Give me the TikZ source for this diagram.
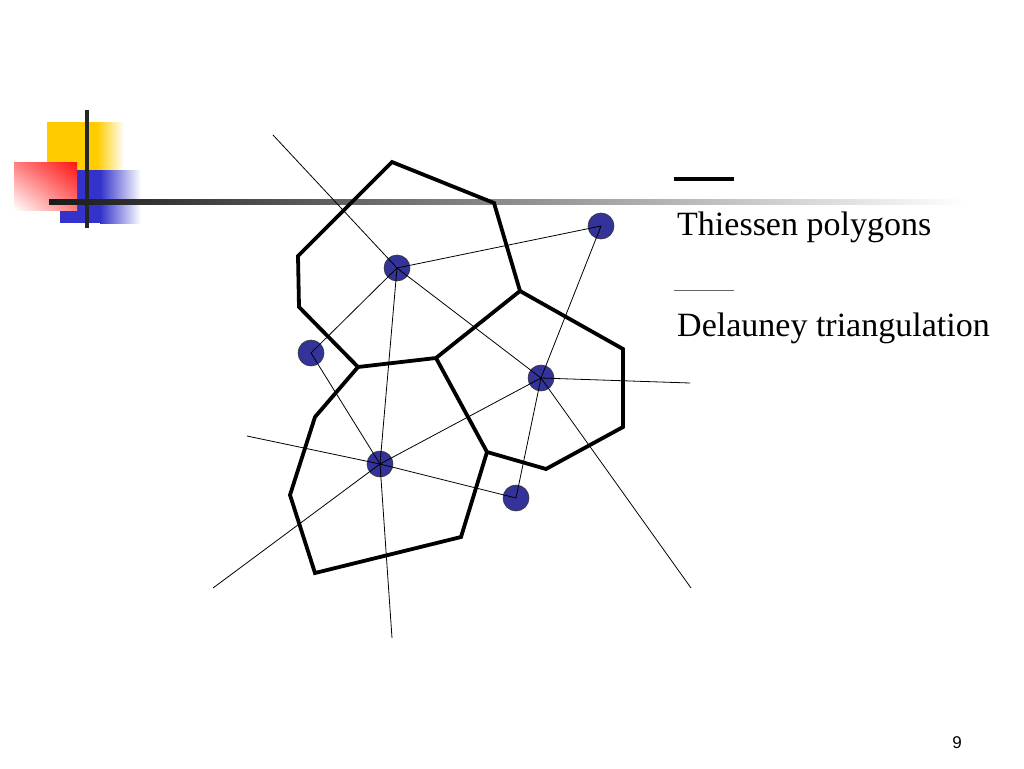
\documentclass[tikz,border=0pt]{standalone}
\usepackage{fontspec}
\setmainfont{Liberation Serif}
\setsansfont{Liberation Sans}
\usetikzlibrary{positioning,calc,shadings}

\definecolor{siteblue}{RGB}{51,51,153}
\definecolor{decoyellow}{RGB}{255,204,0}
\definecolor{decoblue}{RGB}{51,51,204}
\definecolor{decored}{RGB}{255,20,20}

\tikzset{
  site/.style={circle,draw=black!80,line width=0.6pt,fill=siteblue,minimum size=26pt,inner sep=0pt},
  cell/.style={line width=3.8pt,line join=miter},
  delaunay/.style={line width=0.8pt},
  legendtext/.style={anchor=base west,inner sep=0pt,font=\fontsize{34}{40}\selectfont}
}

\begin{document}
\begin{tikzpicture}[x=1pt,y=-1pt]

\useasboundingbox (0,0) rectangle (1024,768);

% title decoration
\fill[decoyellow] (47,122) rectangle (97,186);
\shade[left color=decoyellow,right color=white] (97,122) rectangle (124,186);
\fill[decoblue] (60,170) rectangle (100,223);
\shade[left color=decoblue,right color=white] (100,170) rectangle (141,223);
\shade[lower left=white,upper right=decored,upper left=decored!55,lower right=decored!55] (14,162) rectangle (77,210);
\fill[black!85] (85,110) rectangle (89,228);
\shade[left color=black!90,right color=white] (49,199) rectangle (965,204);

% sites
\node[site] (a) at (397,268) {};
\node[site] (b) at (601,226) {};
\node[site] (c) at (311,353) {};
\node[site] (d) at (541,378) {};
\node[site] (e) at (380,464) {};
\node[site] (f) at (516,498) {};

% polygon corners
\coordinate (p1) at (392,162);
\coordinate (p2) at (494,203);
\coordinate (p3) at (520,291);
\coordinate (p4) at (436,358);
\coordinate (p5) at (358,367);
\coordinate (p6) at (299,307);
\coordinate (p7) at (298,256);
\coordinate (q1) at (623,349);
\coordinate (q2) at (623,427);
\coordinate (q3) at (546,469);
\coordinate (q4) at (487,452);
\coordinate (r1) at (461,537);
\coordinate (r2) at (315,573);
\coordinate (r3) at (290,495);
\coordinate (r4) at (315,417);

% ends of the open rays
\coordinate (ta) at (273,135);
\coordinate (td) at (690,383);
\coordinate (sd) at (691,588);
\coordinate (we) at (247,436);
\coordinate (se) at (213,588);
\coordinate (be) at (392,638);

% Thiessen polygons
\draw[cell] (p1)--(p2)--(p3)--(p4)--(p5)--(p6)--(p7)--cycle;
\draw[cell] (p3)--(q1)--(q2)--(q3)--(q4)--(p4);
\draw[cell] (p5)--(r4)--(r3)--(r2)--(r1)--(q4);

% Delaunay triangulation
\foreach \u/\v in {a/b,a/c,a/d,a/e,b/d,d/e,d/f,c/e,e/f}
  {\draw[delaunay] (\u.center)--(\v.center);}
\foreach \u/\v in {a/ta,d/td,d/sd,e/we,e/se,e/be}
  {\draw[delaunay] (\u.center)--(\v);}

% legend
\coordinate (lt) at (674,179);
\coordinate (lt2) at (734,179);
\coordinate (ld) at (674,290);
\coordinate (ld2) at (734,290);
\draw[line width=4pt] (lt)--(lt2);
\draw[line width=1pt,black!60] (ld)--(ld2);
\node[legendtext] (tp) at (677,235) {Thiessen polygons};
\node[legendtext] (dt) at (677,336) {Delauney triangulation};

\node[font=\sffamily\fontsize{17}{20}\selectfont] (num) at (957,743) {9};

\end{tikzpicture}
\end{document}
